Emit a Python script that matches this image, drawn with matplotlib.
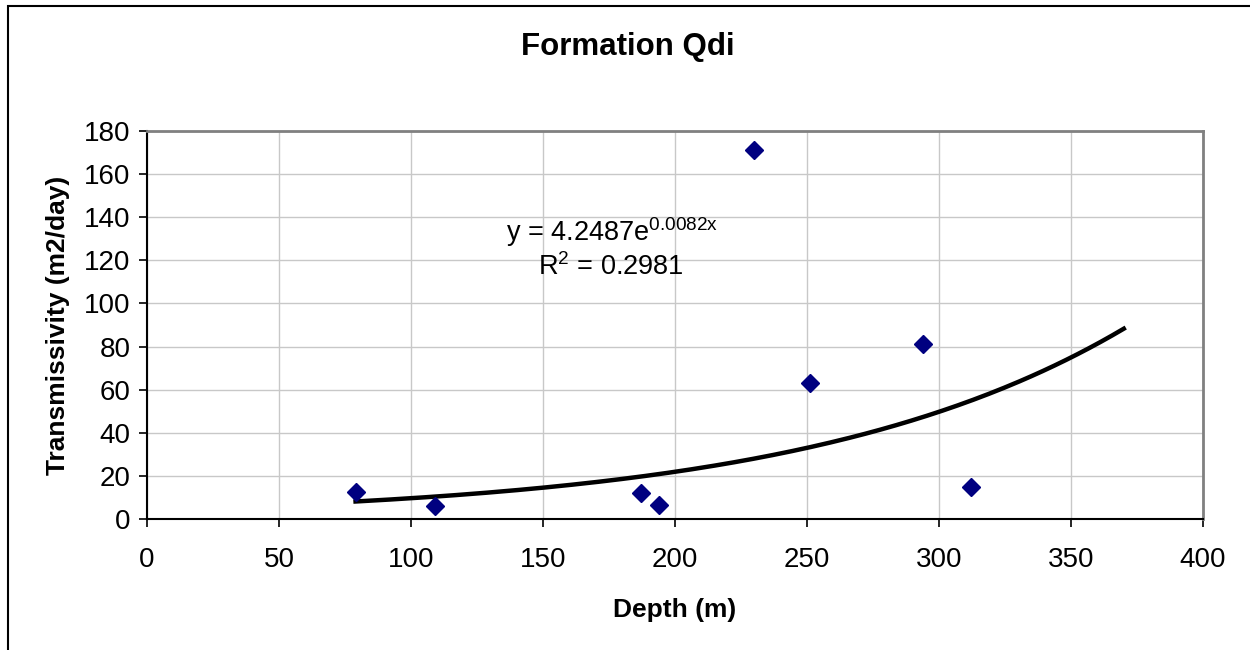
import numpy as np
import matplotlib.pyplot as plt
from matplotlib.patches import Rectangle

plt.rcParams['font.family'] = ['Liberation Sans', 'DejaVu Sans']

# observed wells
depth = [79, 109, 187, 194, 230, 251, 294, 312]
transmissivity = [12.5, 6, 12, 6.5, 171, 63, 81, 15]

# exponential trend y = a * exp(b x)
coef_a = 4.2487
coef_b = 0.0082
r_squared = 0.2981
trend_start, trend_end = 79, 370

fig = plt.figure(figsize=(12.5, 6.5), dpi=100)
ax = fig.add_axes([147 / 1250, 1 - 519 / 650, (1203 - 147) / 1250, (519 - 131) / 650])

# chart area border (cut at the right and bottom edges)
fig.patches.append(Rectangle((8 / 1250, -0.1), 1.2, 1.1 - 6 / 650, transform=fig.transFigure,
                             fill=False, edgecolor='black', linewidth=1.5, clip_on=False))

xs = np.linspace(trend_start, trend_end, 200)
ax.plot(xs, coef_a * np.exp(coef_b * xs), color='black', linewidth=3.2, zorder=3)
ax.plot(depth, transmissivity, linestyle='none', marker='D', markersize=9,
        color='#000080', zorder=4)

ax.set_xlim(0, 400)
ax.set_ylim(0, 180)
ax.set_xticks(range(0, 401, 50))
ax.set_yticks(range(0, 181, 20))
ax.grid(color='#c8c8c8', linewidth=1)
ax.set_axisbelow(True)

for side in ['left', 'bottom']:
    ax.spines[side].set_color('black')
    ax.spines[side].set_linewidth(1.5)
for side in ['right', 'top']:
    ax.spines[side].set_color('#808080')
    ax.spines[side].set_linewidth(2)

ax.tick_params(direction='out', length=6, width=1.2, labelsize=20, pad=6)
ax.tick_params(axis='x', pad=14)

# title is centred on the whole chart area, not on the plot box
fig.text(628 / 1250, 1 - 47 / 650, 'Formation Qdi', fontsize=22.5, fontweight='bold',
         ha='center', va='center')
ax.set_xlabel('Depth (m)', fontsize=19, fontweight='bold', labelpad=18)
ax.set_ylabel('Transmissivity (m2/day)', fontsize=19, fontweight='bold', labelpad=10)

ax.text(136, 129, r'y = %.4fe$^{\mathregular{%.4fx}}$' % (coef_a, coef_b), fontsize=19.5)
ax.text(148, 113, r'R$^{\mathregular{2}}$ = %.4f' % r_squared, fontsize=19.5)

fig.savefig('out.png', dpi=100, facecolor='white')
